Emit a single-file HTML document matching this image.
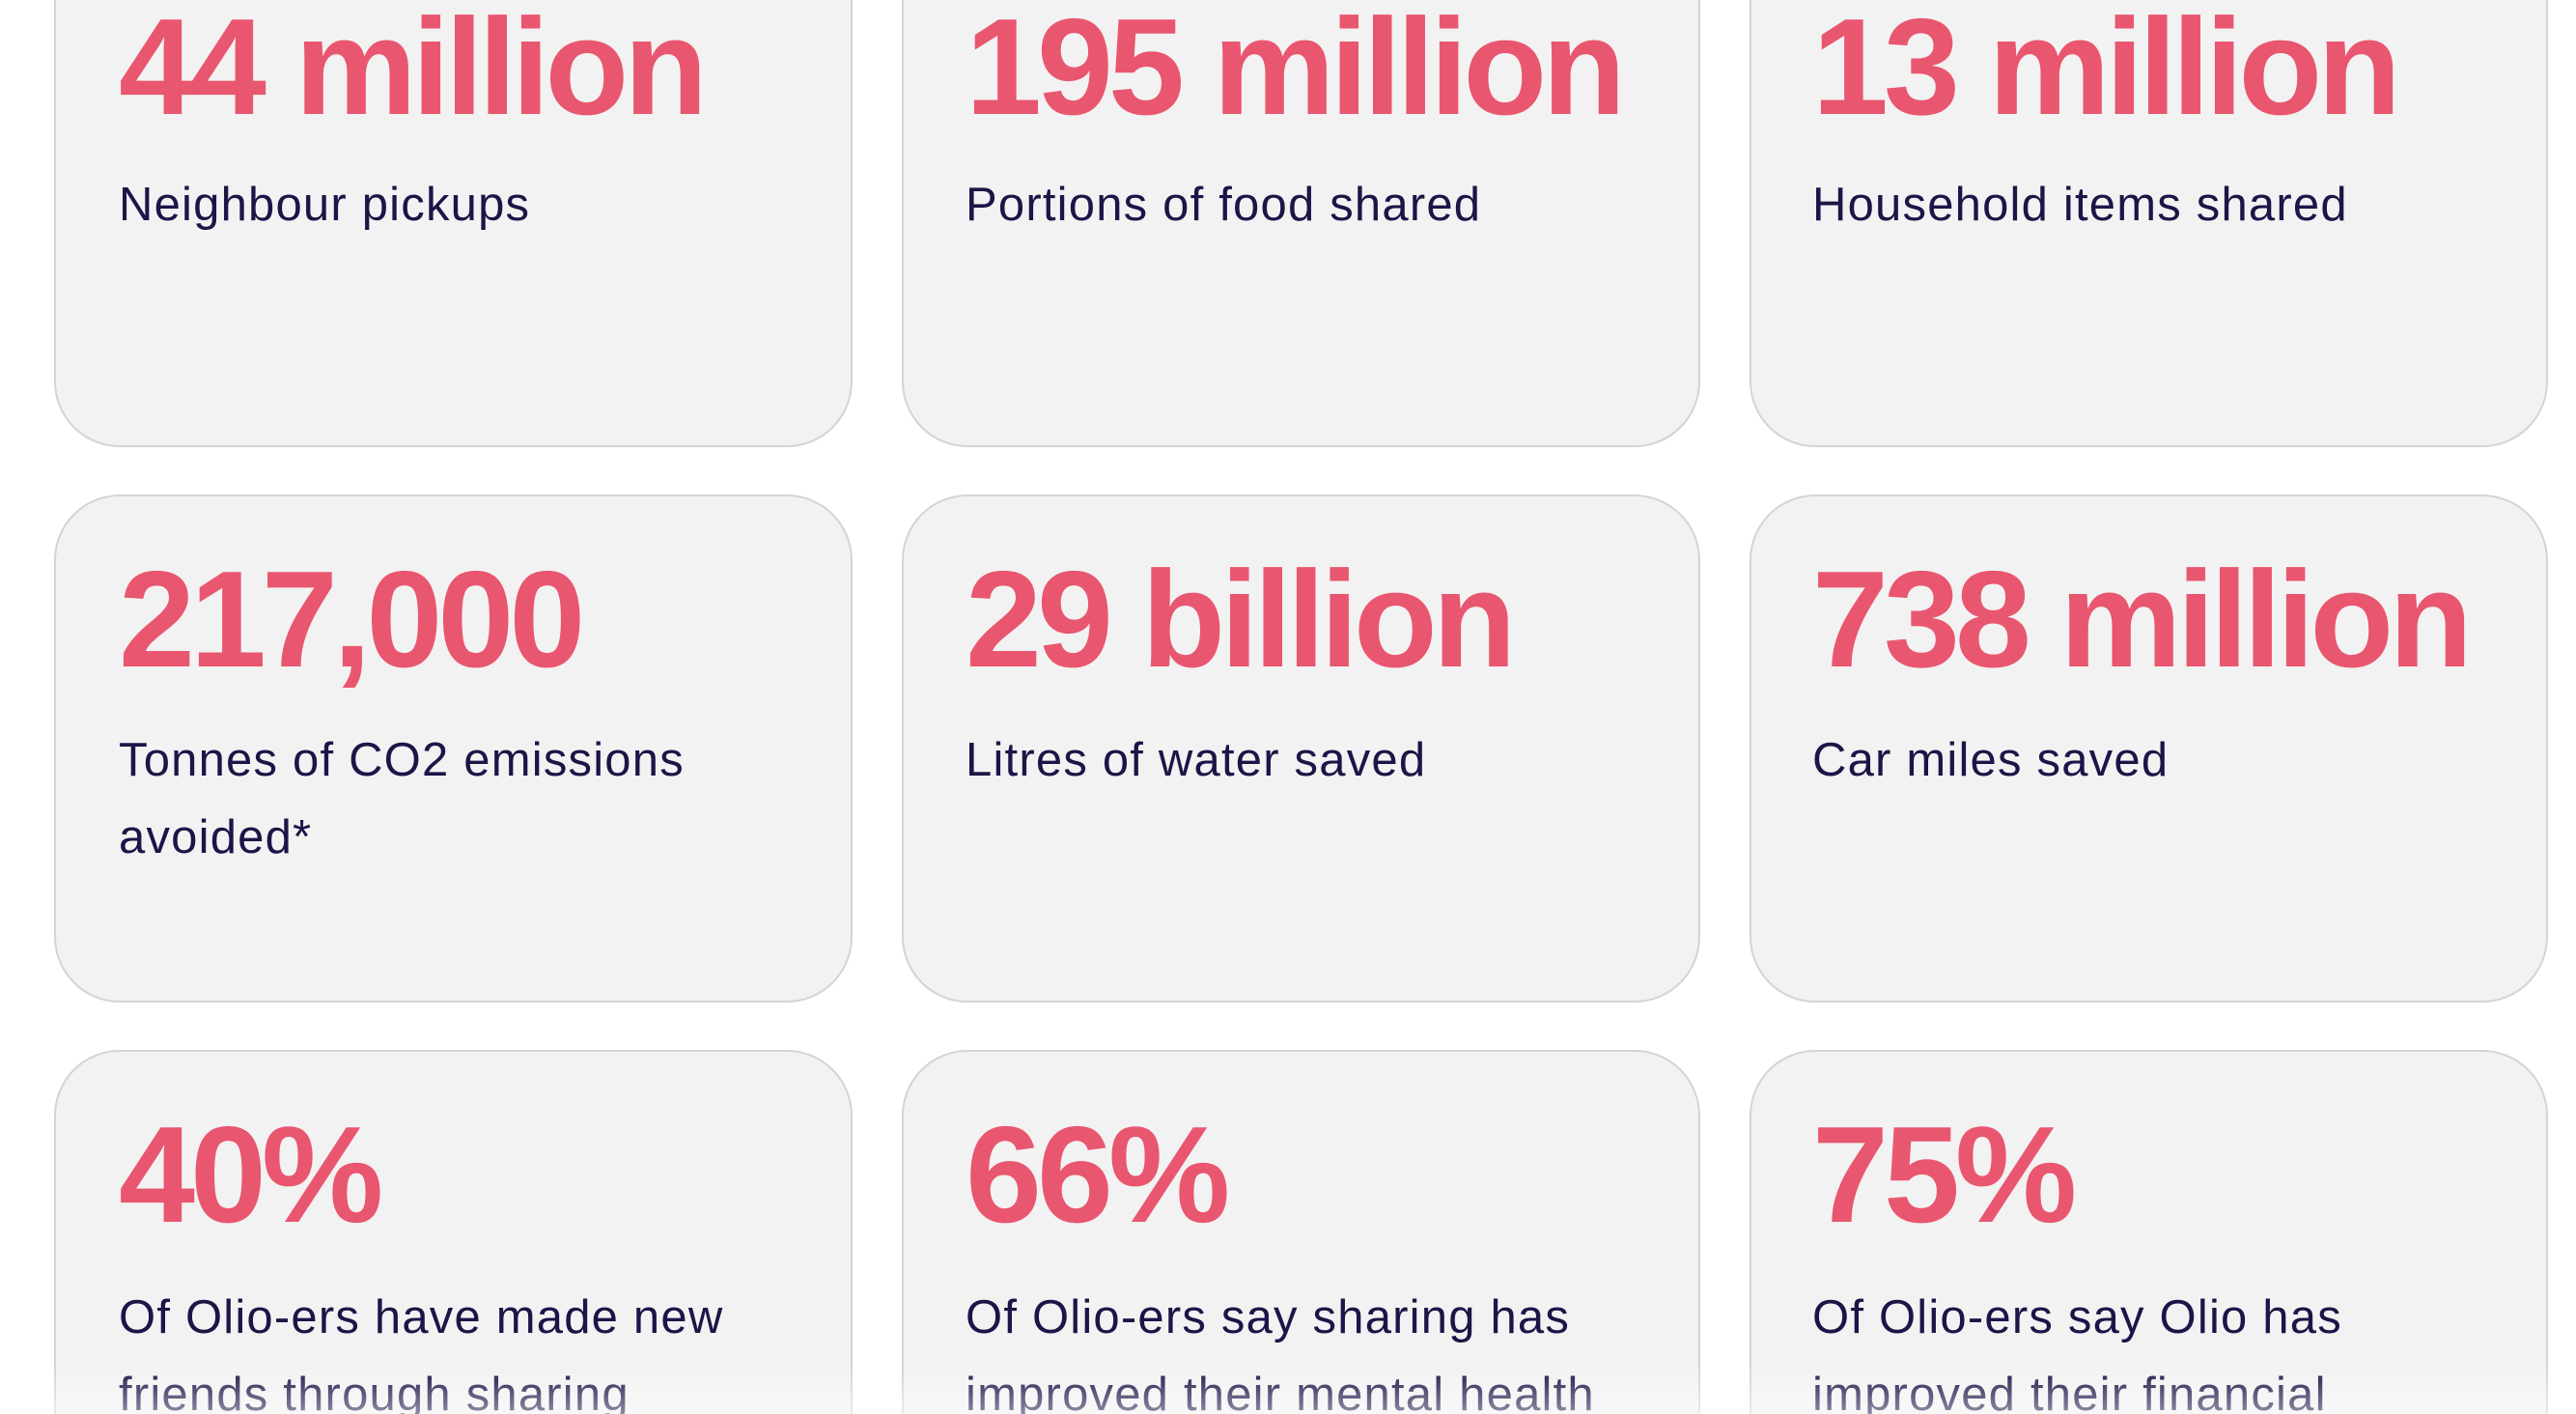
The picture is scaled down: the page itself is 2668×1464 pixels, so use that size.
<!DOCTYPE html>
<html><head><meta charset="utf-8">
<style>
html,body{margin:0;padding:0;width:2668px;height:1464px;overflow:hidden;background:#fff;}
body{font-family:"Liberation Sans",sans-serif;}
#wrap{position:relative;width:2668px;height:1464px;overflow:hidden;}
.card{position:absolute;width:827px;background:#f2f2f2;border:2px solid #d4d4d6;border-radius:68px;box-sizing:border-box;}
.num{position:absolute;font-weight:bold;font-size:142px;color:#e9566f;letter-spacing:-5px;line-height:1;white-space:nowrap;}
.lbl{position:absolute;font-size:49px;color:#1e1447;line-height:80px;white-space:nowrap;letter-spacing:1.2px;}
.fade{position:absolute;left:0;right:0;bottom:0;height:50px;background:linear-gradient(rgba(255,255,255,0),rgba(255,255,255,0.5));}
</style></head>
<body>
<div id="wrap">

<div class="card" style="left:56px;top:-150px;height:613px;"></div>
<div class="card" style="left:934px;top:-150px;height:613px;"></div>
<div class="card" style="left:1812px;top:-150px;height:613px;"></div>

<div class="card" style="left:56px;top:512px;height:526px;"></div>
<div class="card" style="left:934px;top:512px;height:526px;"></div>
<div class="card" style="left:1812px;top:512px;height:526px;"></div>

<div class="card" style="left:56px;top:1087px;height:526px;"></div>
<div class="card" style="left:934px;top:1087px;height:526px;"></div>
<div class="card" style="left:1812px;top:1087px;height:526px;"></div>

<div class="num" style="top:-1px;left:123px;">44 million</div>
<div class="lbl" style="top:172px;left:123px;">Neighbour pickups</div>
<div class="num" style="top:-1px;left:1000px;">195 million</div>
<div class="lbl" style="top:172px;left:1000px;">Portions of food shared</div>
<div class="num" style="top:-1px;left:1877px;">13 million</div>
<div class="lbl" style="top:172px;left:1877px;">Household items shared</div>

<div class="num" style="top:571px;left:123px;">217,000</div>
<div class="lbl" style="top:747px;left:123px;">Tonnes of CO2 emissions<br>avoided*</div>
<div class="num" style="top:571px;left:1000px;">29 billion</div>
<div class="lbl" style="top:747px;left:1000px;">Litres of water saved</div>
<div class="num" style="top:571px;left:1877px;">738 million</div>
<div class="lbl" style="top:747px;left:1877px;">Car miles saved</div>

<div class="num" style="top:1146px;left:123px;">40%</div>
<div class="lbl" style="top:1324px;left:123px;">Of Olio-ers have made new<br>friends through sharing</div>
<div class="num" style="top:1146px;left:1000px;">66%</div>
<div class="lbl" style="top:1324px;left:1000px;">Of Olio-ers say sharing has<br>improved their mental health</div>
<div class="num" style="top:1146px;left:1877px;">75%</div>
<div class="lbl" style="top:1324px;left:1877px;">Of Olio-ers say Olio has<br>improved their financial</div>

<div class="fade"></div>
</div>
</body></html>
